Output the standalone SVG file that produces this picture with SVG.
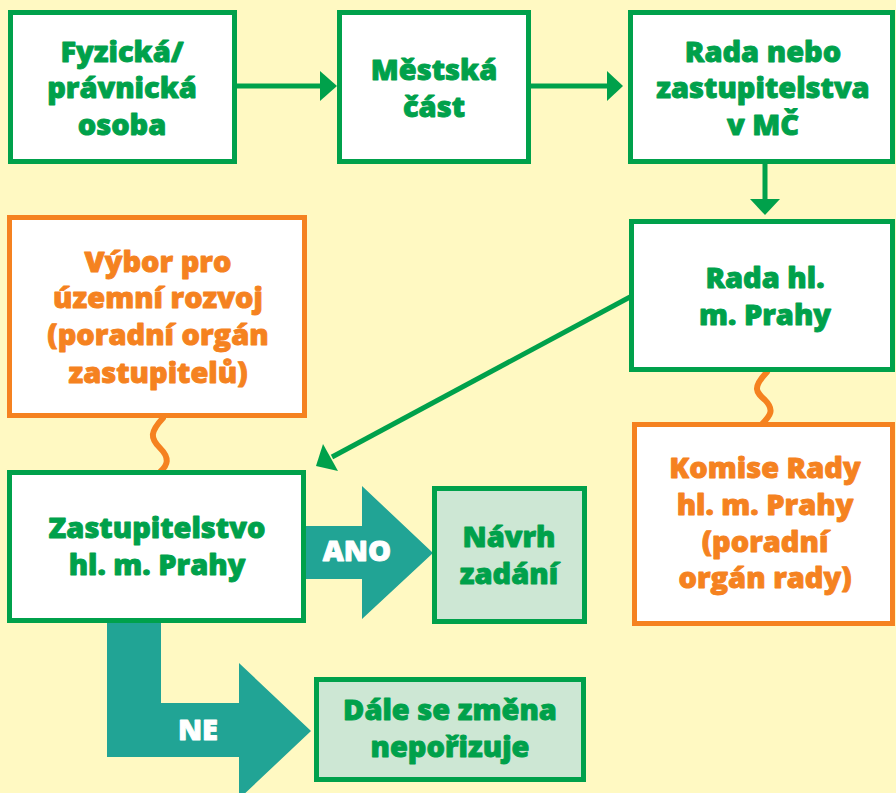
<svg xmlns="http://www.w3.org/2000/svg" width="896" height="793" viewBox="0 0 896 793">
<style>
.g{fill:#fff;stroke:#00A14B;stroke-width:5}
.o{fill:#fff;stroke:#F58220;stroke-width:5}
.lg{fill:#CDE7D4;stroke:#00A14B;stroke-width:5}
text{font-family:"Open Sans","Liberation Sans",sans-serif;font-weight:800;font-size:29px;text-anchor:middle;stroke-width:0.9;stroke-linejoin:round}
.tg{fill:#00A14B;stroke:#00A14B}
.to{fill:#F58220;stroke:#F58220}
.tw{fill:#fff;stroke:#fff}
.cl{stroke:#00A14B;stroke-width:5;fill:none}
.ah{fill:#00A14B}
.wave{stroke:#F58220;stroke-width:6;fill:none;stroke-linecap:round}
.teal{fill:#21A495}
</style>
<rect width="896" height="793" fill="#FFF9C2"/>
<g id="connectors">
<line class="cl" x1="237" y1="86" x2="322" y2="86"/>
<polygon class="ah" points="320,71 337,86 320,101"/>
<line class="cl" x1="531" y1="86" x2="609" y2="86"/>
<polygon class="ah" points="607,71 623,86 607,101"/>
<line class="cl" x1="765" y1="164" x2="765" y2="201"/>
<polygon class="ah" points="750,199 765,215 780,199"/>
<line class="cl" x1="630" y1="297" x2="332" y2="457"/>
<polygon class="ah" points="316,466 323,444 338,471"/>
<path class="wave" d="M163,418 C150,432 150,438 160,448 C170,458 168,465 160,472"/>
<path class="wave" d="M767,372 C752,388 756,392 765,400 C775,410 770,416 762,424"/>
<polygon class="teal" points="306,526 362,526 362,486 433,553 362,619 362,579 306,579"/>
<polygon class="teal" points="107,623 161,623 161,703 239,703 239,663 311,731 239,799 239,757 107,757"/>
<text class="tw" x="357" y="561">ANO</text>
<text class="tw" x="198" y="740">NE</text>
</g>
<g id="fyzicka">
<rect class="g" x="10.5" y="12.5" width="224" height="149"/>
<text class="tg" x="122" y="62">Fyzická/</text>
<text class="tg" x="122" y="98">právnická</text>
<text class="tg" x="122" y="135">osoba</text>
</g>
<g id="mestska">
<rect class="g" x="339.5" y="12.5" width="189" height="149"/>
<text class="tg" x="434" y="80">Městská</text>
<text class="tg" x="434" y="117">část</text>
</g>
<g id="rada-mc">
<rect class="g" x="630.5" y="12.5" width="262" height="149"/>
<text class="tg" x="763" y="62">Rada nebo</text>
<text class="tg" x="763" y="98">zastupitelstva</text>
<text class="tg" x="763" y="135">v MČ</text>
</g>
<g id="rada-praha">
<rect class="g" x="631.5" y="221.5" width="261" height="148"/>
<text class="tg" x="765" y="288">Rada hl.</text>
<text class="tg" x="765" y="325">m. Prahy</text>
</g>
<g id="komise">
<rect class="o" x="634.5" y="424.5" width="258" height="199"/>
<text class="to" x="765" y="478">Komise Rady</text>
<text class="to" x="765" y="515">hl. m. Prahy</text>
<text class="to" x="765" y="552">(poradní</text>
<text class="to" x="765" y="588">orgán rady)</text>
</g>
<g id="vybor">
<rect class="o" x="9.5" y="217.5" width="295" height="198"/>
<text class="to" x="158" y="272">Výbor pro</text>
<text class="to" x="158" y="308">územní rozvoj</text>
<text class="to" x="158" y="345">(poradní orgán</text>
<text class="to" x="158" y="383">zastupitelů)</text>
</g>
<g id="zastupitelstvo">
<rect class="g" x="9.5" y="472.5" width="294" height="148"/>
<text class="tg" x="157" y="538">Zastupitelstvo</text>
<text class="tg" x="157" y="575">hl. m. Prahy</text>
</g>
<g id="navrh">
<rect class="lg" x="434.5" y="488.5" width="150" height="133"/>
<text class="tg" x="509" y="547">Návrh</text>
<text class="tg" x="509" y="584">zadání</text>
</g>
<g id="dale">
<rect class="lg" x="316.5" y="679.5" width="267" height="100"/>
<text class="tg" x="450" y="720">Dále se změna</text>
<text class="tg" x="450" y="757">nepořizuje</text>
</g>
</svg>
